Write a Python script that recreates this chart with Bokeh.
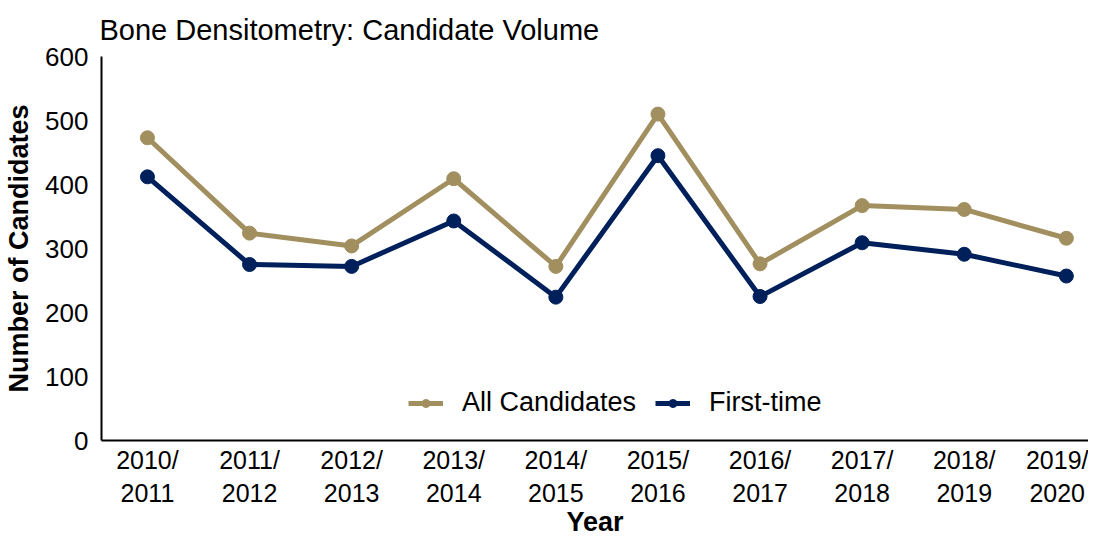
from bokeh.plotting import figure
from bokeh.embed import file_html
from bokeh.resources import INLINE
from bokeh.models import FixedTicker, Range1d, Legend, LegendItem

years = ["2010/\n2011", "2011/\n2012", "2012/\n2013", "2013/\n2014", "2014/\n2015",
         "2015/\n2016", "2016/\n2017", "2017/\n2018", "2018/\n2019", "2019/\n2020"]
all_candidates = [473, 324, 304, 409, 272, 510, 276, 367, 361, 316]
first_time = [412, 275, 272, 343, 224, 445, 225, 309, 291, 257]
y_ticks = [0, 100, 200, 300, 400, 500, 600]

GOLD = "#A28F5F"
NAVY = "#00205B"
FONT = "Liberation Sans"

xs = list(range(len(years)))

p = figure(width=1088, height=540, output_backend="svg", toolbar_location=None,
           x_range=Range1d(-0.45, 9.217), y_range=Range1d(0, 600),
           min_border_left=101, min_border_top=55, min_border_bottom=60, min_border_right=0)

p.title.text = "Bone Densitometry: Candidate Volume"
p.title.text_font = FONT
p.title.text_font_size = "29px"
p.title.text_font_style = "normal"
p.title.text_color = "#000000"
p.title.align = "left"
p.title.offset = -2
p.title.standoff = 22

p.grid.visible = False
p.outline_line_color = None

r1 = p.line(xs, all_candidates, line_color=GOLD, line_width=5)
c1 = p.scatter(xs, all_candidates, size=14, fill_color=GOLD, line_color=GOLD)
r2 = p.line(xs, first_time, line_color=NAVY, line_width=5)
c2 = p.scatter(xs, first_time, size=14, fill_color=NAVY, line_color=NAVY)

p.xaxis.ticker = FixedTicker(ticks=xs)
p.xaxis.major_label_overrides = {i: lab for i, lab in enumerate(years)}
p.yaxis.ticker = FixedTicker(ticks=y_ticks)

for ax in (p.xaxis, p.yaxis):
    ax.axis_line_color = "#000000"
    ax.axis_line_width = 2
    ax.major_tick_line_color = None
    ax.minor_tick_line_color = None
    ax.major_tick_out = 0
    ax.major_tick_in = 0
    ax.major_label_text_font = FONT
    ax.major_label_text_font_size = "26px"
    ax.major_label_text_color = "#000000"
    ax.axis_label_text_font = FONT
    ax.axis_label_text_font_size = "27px"
    ax.axis_label_text_font_style = "bold"
    ax.axis_label_text_color = "#000000"

p.xaxis.major_label_text_font_size = "25px"
p.xaxis.axis_label = "Year"
p.xaxis.major_label_standoff = 5
p.xaxis.axis_label_standoff = -3
p.yaxis.axis_label = "Number of Candidates"
p.yaxis.major_label_standoff = 13
p.yaxis.axis_label_standoff = 8

legend = Legend(items=[LegendItem(label="All Candidates", renderers=[r1, c1]),
                       LegendItem(label="First-time", renderers=[r2, c2])],
                orientation="horizontal", location=(307, 22))
legend.border_line_color = None
legend.background_fill_alpha = 0
legend.padding = 0
legend.margin = 0
legend.label_text_font = FONT
legend.label_text_font_size = "27px"
legend.label_text_color = "#000000"
legend.glyph_width = 35
legend.glyph_height = 20
legend.label_standoff = 19
legend.spacing = 19
p.add_layout(legend, "center")

open("out.html", "w").write(file_html(p, INLINE))
